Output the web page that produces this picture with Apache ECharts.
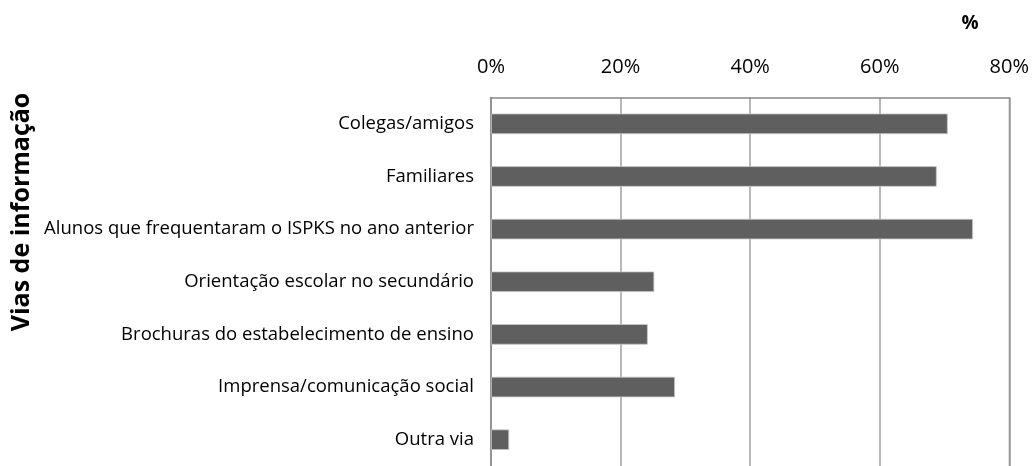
<!DOCTYPE html>
<html><head><meta charset="utf-8">
<script src="https://cdn.jsdelivr.net/npm/echarts@6/dist/echarts.min.js"></script>
<style>html,body{margin:0;padding:0;background:#fff}#c{width:1032px;height:466px}</style>
</head><body><div id="c"></div>
<script>
const categories = ["Colegas/amigos","Familiares","Alunos que frequentaram o ISPKS no ano anterior","Orientação escolar no secundário","Brochuras do estabelecimento de ensino","Imprensa/comunicação social","Outra via"];
const values = [70.5, 68.8, 74.4, 25.2, 24.2, 28.4, 2.8];
const xTicks = [0, 20, 40, 60, 80];
const yTitle = 'Vias de informação';
const xUnit = '%';
const FONT = "'Open Sans', sans-serif";
const chart = echarts.init(document.getElementById('c'));
chart.setOption({
  animation: false,
  grid: {left: 491, top: 97.5, width: 518.5, height: 374, containLabel: false},
  xAxis: {
    type: 'value', position: 'top', min: xTicks[0], max: xTicks[xTicks.length-1], interval: 20,
    axisLabel: {formatter: v => v + '%', fontFamily: FONT, fontSize: 20, color: '#000', margin: 20},
    axisLine: {show: true, lineStyle: {color: '#888', width: 1.5}},
    axisTick: {show: false},
    splitLine: {show: true, lineStyle: {color: '#a0a0a0', width: 1.5}}
  },
  yAxis: {
    type: 'category', inverse: true, data: categories,
    axisLabel: {fontFamily: FONT, fontSize: 18.5, color: '#000', margin: 17},
    axisLine: {show: true, lineStyle: {color: '#888', width: 1.5}},
    axisTick: {show: false},
    splitLine: {show: false}
  },
  series: [{
    type: 'bar', data: values, barCategoryGap: '61%',
    itemStyle: {color: '#5f5f5f', borderColor: '#c8c8c8', borderWidth: 0.8},
    silent: true
  }],
  graphic: [
    {type: 'line', shape: {x1: 1009.5, y1: 97.5, x2: 1009.5, y2: 466}, style: {stroke: '#888', lineWidth: 1.5}},
    {type: 'text', x: 22, y: 212, rotation: Math.PI/2,
     style: {text: yTitle, fontFamily: FONT, fontSize: 25, fontWeight: 'bold', fill: '#000', align: 'center', verticalAlign: 'middle'}},
    {type: 'text', x: 970, y: 24,
     style: {text: xUnit, fontFamily: FONT, fontSize: 19, fontWeight: 'bold', fill: '#000', align: 'center', verticalAlign: 'middle'}}
  ]
});
</script></body></html>
